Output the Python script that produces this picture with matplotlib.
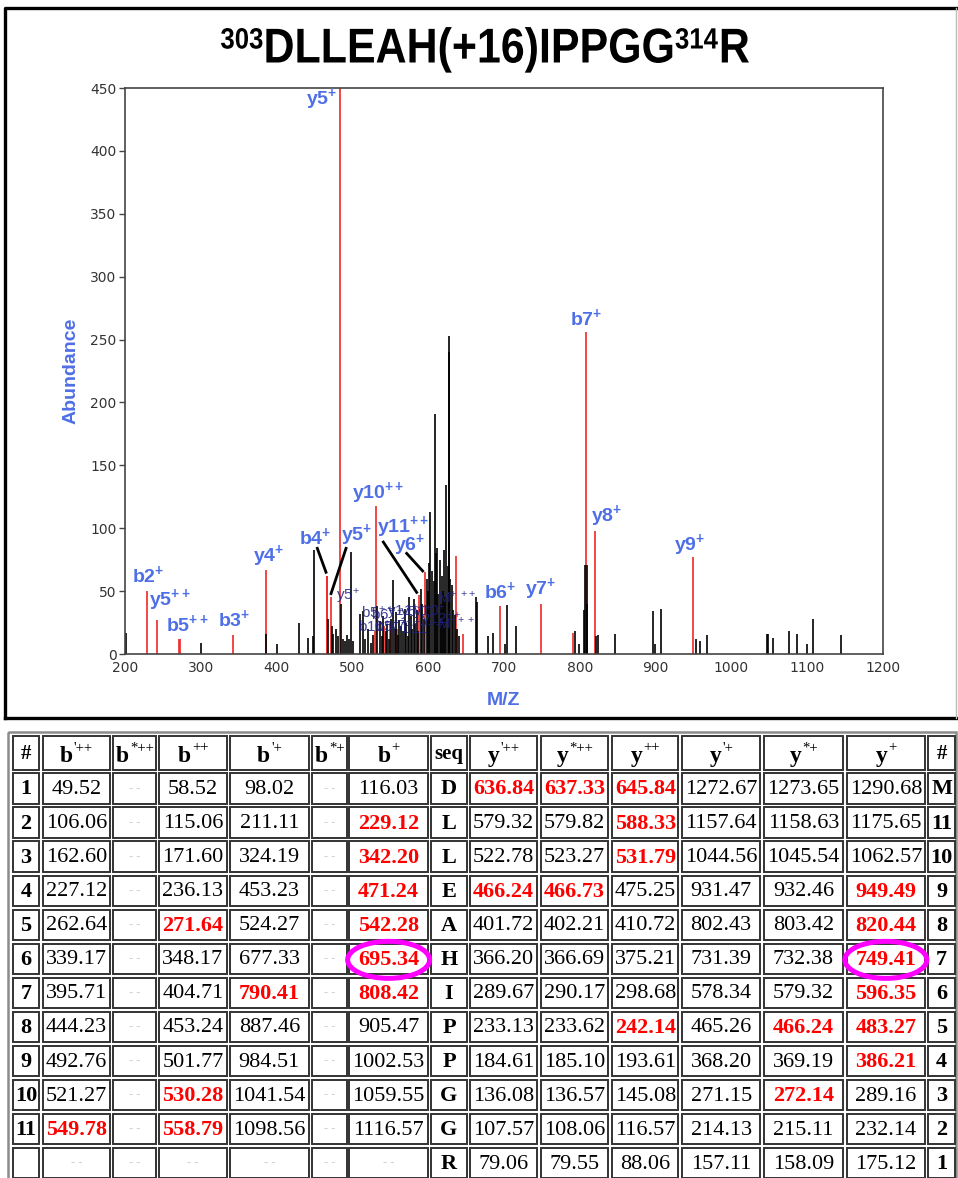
import matplotlib
matplotlib.use("Agg")
import matplotlib.pyplot as plt
from matplotlib.patches import Rectangle, Ellipse, PathPatch
from matplotlib.textpath import TextPath
from matplotlib.font_manager import FontProperties
from matplotlib.transforms import Affine2D
from matplotlib.path import Path

plt.rcParams['font.family'] = ['Liberation Sans', 'DejaVu Sans']
plt.rcParams['mathtext.fontset'] = 'custom'
plt.rcParams['mathtext.rm'] = 'Liberation Sans'
plt.rcParams['mathtext.it'] = 'Liberation Sans:italic'
plt.rcParams['mathtext.bf'] = 'Liberation Sans:bold'

# --- spectrum data ---
# title pieces: (text, is_superscript)
title_parts = [('303', True), ('DLLEAH(+16)IPPGG', False), ('314', True), ('R', False)]

# matched fragment peaks (red)
matched_mz = [229.12, 242.14, 271.64, 272.14, 342.20, 386.21, 466.24, 466.73, 471.24,
              483.27, 530.28, 531.79, 542.28, 549.78, 558.79, 588.33, 596.35, 636.84,
              637.33, 645.84, 695.34, 749.41, 790.41, 808.42, 820.44, 949.49]
matched_int = [50, 27, 12, 12, 15, 67, 62, 62, 45,
               450, 18, 118, 22, 25, 20, 47, 65, 78,
               20, 16, 38, 40, 17, 256, 98, 77]

# unmatched peaks (black)
other_mz = [201, 300, 386, 400, 429, 442, 447.6, 449, 467.4, 472.7, 475, 478, 481, 484.5,
            487, 490, 493, 496, 498.6, 501, 510, 514, 517, 521, 524, 527, 533, 536, 539,
            541, 544, 546, 548, 551, 553.6, 556, 558, 560, 562, 564, 567, 569, 571, 573,
            575, 577, 579, 581, 583, 585, 587, 590, 592, 594, 598, 600, 601.5, 603, 605,
            607, 609, 610.5, 612, 613.5, 615.6, 617, 618.6, 620, 621, 622.5, 624, 625.5,
            627, 627.8, 629, 631, 633, 635, 638, 640, 663, 665, 678.5, 685, 701, 704.4,
            715.8, 793.7, 799, 806, 807.5, 809, 810, 821.4, 824, 846.8, 897, 899, 906.7,
            953, 959, 968, 1047, 1048, 1054.5, 1076.5, 1086, 1099.7, 1107.7, 1145]
other_int = [17, 9, 16, 8, 25, 13, 14, 83, 28, 22, 16, 20, 14, 40,
             12, 10, 15, 12, 81, 10, 32, 34, 12, 20, 9, 15, 38, 26, 14,
             30, 18, 24, 12, 28, 59, 20, 33, 15, 27, 22, 18, 36, 25, 14,
             45, 30, 20, 44, 24, 35, 18, 52, 40, 28, 60, 50, 72, 113, 66,
             58, 191, 80, 84, 48, 75, 40, 62, 50, 83, 45, 134, 70,
             253, 240, 60, 55, 35, 31, 20, 14, 45, 41, 14, 17, 8, 39,
             22, 18, 8, 35, 71, 71, 40, 14, 15, 16, 34, 8, 36,
             12, 10, 15, 16, 16, 13, 18, 16, 8, 28, 15]

# peak annotations: text, x, y
ion_labels = ['y5', 'b2', 'y5', 'b5', 'b3', 'y4', 'b4', 'y5', 'y10', 'y11', 'y6', 'b6',
              'y7', 'b7', 'y8', 'y9']
ion_charge = ['+', '+', '++', '++', '+', '+', '+', '+', '++', '++', '+', '+',
              '+', '+', '+', '+']
ion_label_x = [460, 230, 259, 282, 344, 389, 451, 505, 534, 567, 576, 695, 749, 808, 835, 945]
ion_label_y = [441, 63, 43, 24, 28, 78, 93, 95, 128, 101, 87, 50, 52, 267, 110, 87]

# leader lines for crowded labels: (x0, y0, x1, y1)
leaders = [(453.7, 84, 465.2, 65), (491.6, 84, 471.8, 48),
           (540.8, 89, 584.8, 49), (571.6, 80, 592.7, 66)]

# overlapping minor labels in the crowded region
minor_labels = [r'y5$^{+}$', r'b5$^{++}$', r'b6$^{++}$', r'y11$^{+}$', r'y5$^{++}$', r'y10$^{+}$',
                r'b10$^{++}$', r'b5$^{++}$', r'y7$^{++}$', r'b11$^{++}$', r'y12$^{++}$',
                r'M$^{+}$ $^{++}$', r'M$^{+++}$']
minor_x = [478, 512, 524, 546, 563, 580, 507, 530, 548, 566, 590, 612, 612]
minor_y = [46, 33, 31, 33, 32, 33, 22, 22, 21, 20, 27, 45, 24]

# --- fragment table ---
col_names = ['#', "b'++", "b*++", "b++", "b'+", "b*+", "b+", 'seq',
             "y'++", "y*++", "y++", "y'+", "y*+", "y+", '#']
num_left = ['1', '2', '3', '4', '5', '6', '7', '8', '9', '10', '11', '']
num_right = ['M', '11', '10', '9', '8', '7', '6', '5', '4', '3', '2', '1']
seq = ['D', 'L', 'L', 'E', 'A', 'H', 'I', 'P', 'P', 'G', 'G', 'R']
b1_2 = ['49.52', '106.06', '162.60', '227.12', '262.64', '339.17', '395.71', '444.23',
        '492.76', '521.27', '549.78', '--']
b2_2 = ['--'] * 12
b_2 = ['58.52', '115.06', '171.60', '236.13', '271.64', '348.17', '404.71', '453.24',
       '501.77', '530.28', '558.79', '--']
b1_1 = ['98.02', '211.11', '324.19', '453.23', '524.27', '677.33', '790.41', '887.46',
        '984.51', '1041.54', '1098.56', '--']
b2_1 = ['--'] * 12
b_1 = ['116.03', '229.12', '342.20', '471.24', '542.28', '695.34', '808.42', '905.47',
       '1002.53', '1059.55', '1116.57', '--']
y1_2 = ['636.84', '579.32', '522.78', '466.24', '401.72', '366.20', '289.67', '233.13',
        '184.61', '136.08', '107.57', '79.06']
y2_2 = ['637.33', '579.82', '523.27', '466.73', '402.21', '366.69', '290.17', '233.62',
        '185.10', '136.57', '108.06', '79.55']
y_2 = ['645.84', '588.33', '531.79', '475.25', '410.72', '375.21', '298.68', '242.14',
       '193.61', '145.08', '116.57', '88.06']
y1_1 = ['1272.67', '1157.64', '1044.56', '931.47', '802.43', '731.39', '578.34', '465.26',
        '368.20', '271.15', '214.13', '157.11']
y2_1 = ['1273.65', '1158.63', '1045.54', '932.46', '803.42', '732.38', '579.32', '466.24',
        '369.19', '272.14', '215.11', '158.09']
y_1 = ['1290.68', '1175.65', '1062.57', '949.49', '820.44', '749.41', '596.35', '483.27',
       '386.21', '289.16', '232.14', '175.12']
columns = [num_left, b1_2, b2_2, b_2, b1_1, b2_1, b_1, seq,
           y1_2, y2_2, y_2, y1_1, y2_1, y_1, num_right]
# matched cells (row, column index)
matched_cells = [(0, 8), (0, 9), (0, 10), (1, 6), (1, 10), (2, 6), (2, 10), (3, 6), (3, 8),
                 (3, 9), (3, 13), (4, 3), (4, 6), (4, 13), (5, 6), (5, 13), (6, 4), (6, 6),
                 (6, 13), (7, 10), (7, 12), (7, 13), (8, 13), (9, 3), (9, 12), (10, 1),
                 (10, 3)]
circled_cells = [(5, 6), (5, 13)]

label_blue = '#4f6fe6'
peak_red = '#f02828'

fig = plt.figure(figsize=(9.58, 11.78), dpi=100)

# page-level drawing in pixel coordinates
bg = fig.add_axes([0, 0, 1, 1])
bg.set_xlim(0, 958)
bg.set_ylim(1178, 0)
bg.axis('off')

bg.plot([5, 5, 960], [718, 8, 8], color='black', lw=2.4)
bg.plot([5, 960], [718, 718], color='black', lw=2.4)
bg.plot([956.5, 956.5], [8, 718], color='#bbbbbb', lw=1)

# title: bold pieces laid out as paths, superscripts top-aligned with the capitals,
# then narrowed to the width of the original
bold = FontProperties(family='Liberation Sans', weight='bold')
main_size, sup_size = 40, 24
cap = 0.716
paths, x = [], 0
for txt, is_sup in title_parts:
    size = sup_size if is_sup else main_size
    y = cap * (main_size - sup_size) if is_sup else 0
    p = TextPath((x, y), txt, size=size, prop=bold)
    paths.append(p)
    x = p.get_extents().x1 + (1 if is_sup else 2.5)
title_path = Path.make_compound_path(*paths)
ext = title_path.get_extents()
sx = 528 / ext.width
sy = 35 / (cap * main_size)
tr = (Affine2D().translate(-ext.x0 - ext.width / 2, -cap * main_size / 2)
      .scale(sx, -sy).translate(485, 45))
bg.add_patch(PathPatch(tr.transform_path(title_path), fc='black', ec='none'))

# table
col_edges = [(12.7, 39.3), (42.7, 110), (113.3, 156), (159.3, 226.7), (230, 308.7),
             (312, 346.7), (349.3, 428), (431.3, 466.7), (470, 537.3), (541, 608.3),
             (612.3, 678.3), (682.3, 760), (764, 842.7), (846.7, 925), (928.3, 955)]
bg.add_patch(Rectangle((8.5, 731.5), 948, 460, fill=False, ec='#8c8c8c', lw=1.8))
head_top, head_h = 736, 34
row_top, row_pitch, row_h = 773.3, 34.07, 30.4
char_w = {"'": 0.2, '+': 0.564, '*': 0.5}

for c, (x0, x1) in enumerate(col_edges):
    xc = (x0 + x1) / 2
    bg.add_patch(Rectangle((x0, head_top), x1 - x0, head_h, fill=False, ec='#333333', lw=1.4))
    name = col_names[c]
    if name in ('#', 'seq'):
        bg.text(xc, head_top + head_h / 2 + 1, name, fontsize=15, ha='center', va='center',
                family='Liberation Serif', weight='bold')
    else:
        base, sup = name[0], name[1:]
        base_w = 12.3 if base == 'b' else 11.1
        sup_w = sum(char_w[ch] for ch in sup) * 14.5
        xs = xc - (base_w + 1 + sup_w) / 2
        bg.text(xs, head_top + 26, base, fontsize=17, ha='left', va='baseline',
                family='Liberation Serif', weight='bold')
        bg.text(xs + base_w + 1.5, head_top + 15, sup, fontsize=10.5, ha='left', va='baseline',
                family='Liberation Serif')
    for r, val in enumerate(columns[c]):
        y0 = row_top + r * row_pitch
        bg.add_patch(Rectangle((x0, y0), x1 - x0, row_h, fill=False, ec='#333333', lw=1.4))
        yc = y0 + row_h / 2 + 1
        if val == '--':
            bg.text(xc, yc - 1, '- -', fontsize=9, color='#d0d0d0', ha='center', va='center',
                    family='Liberation Serif')
        elif c in (0, 7, 14):
            bg.text(xc, yc, val, fontsize=16, ha='center', va='center',
                    family='Liberation Serif', weight='bold')
        elif (r, c) in matched_cells:
            bg.text(xc, yc, val, fontsize=16, ha='center', va='center', color='#ff0000',
                    family='Liberation Serif', weight='bold')
        else:
            bg.text(xc, yc, val, fontsize=16, ha='center', va='center',
                    family='Liberation Serif')

for r, c in circled_cells:
    x0, x1 = col_edges[c]
    y0 = row_top + r * row_pitch
    bg.add_patch(Ellipse(((x0 + x1) / 2, y0 + row_h / 2 + 1), 82, 37, fill=False,
                         ec='#ff00ff', lw=3.6))

# spectrum
ax = fig.add_axes([125 / 958, 1 - 654 / 1178, 758 / 958, 566 / 1178])
ax.vlines(matched_mz, 0, matched_int, color=peak_red, lw=1.2)
ax.vlines(other_mz, 0, other_int, color='black', lw=1.2)
ax.set_xlim(200, 1200)
ax.set_ylim(0, 450)
ax.set_xticks(range(200, 1201, 100))
ax.set_yticks(range(0, 451, 50))
ax.tick_params(axis='x', length=0, pad=5, labelsize=10, labelcolor='#333333',
               labelfontfamily='DejaVu Sans')
ax.tick_params(axis='y', length=4, width=1, color='#444444', pad=2, labelsize=10,
               labelcolor='#333333', labelfontfamily='DejaVu Sans')
for sp in ax.spines.values():
    sp.set_color('#444444')
    sp.set_linewidth(1.2)
ax.set_xlabel('M/Z', color=label_blue, fontsize=14, weight='bold', labelpad=12)
ax.set_ylabel('Abundance', color=label_blue, fontsize=14, weight='bold', labelpad=8)

for name, charge, x, y in zip(ion_labels, ion_charge, ion_label_x, ion_label_y):
    ax.text(x, y, name + r'$^{\mathbf{' + charge + '}}$', color=label_blue, fontsize=14,
            weight='bold', ha='center', va='center')
for x0, y0, x1, y1 in leaders:
    ax.plot([x0, x1], [y0, y1], color='black', lw=2)
for txt, x, y in zip(minor_labels, minor_x, minor_y):
    ax.text(x, y, txt, color='#1e2080', fontsize=11, ha='left', va='center', alpha=0.85)

fig.savefig('out.png', dpi=100)
